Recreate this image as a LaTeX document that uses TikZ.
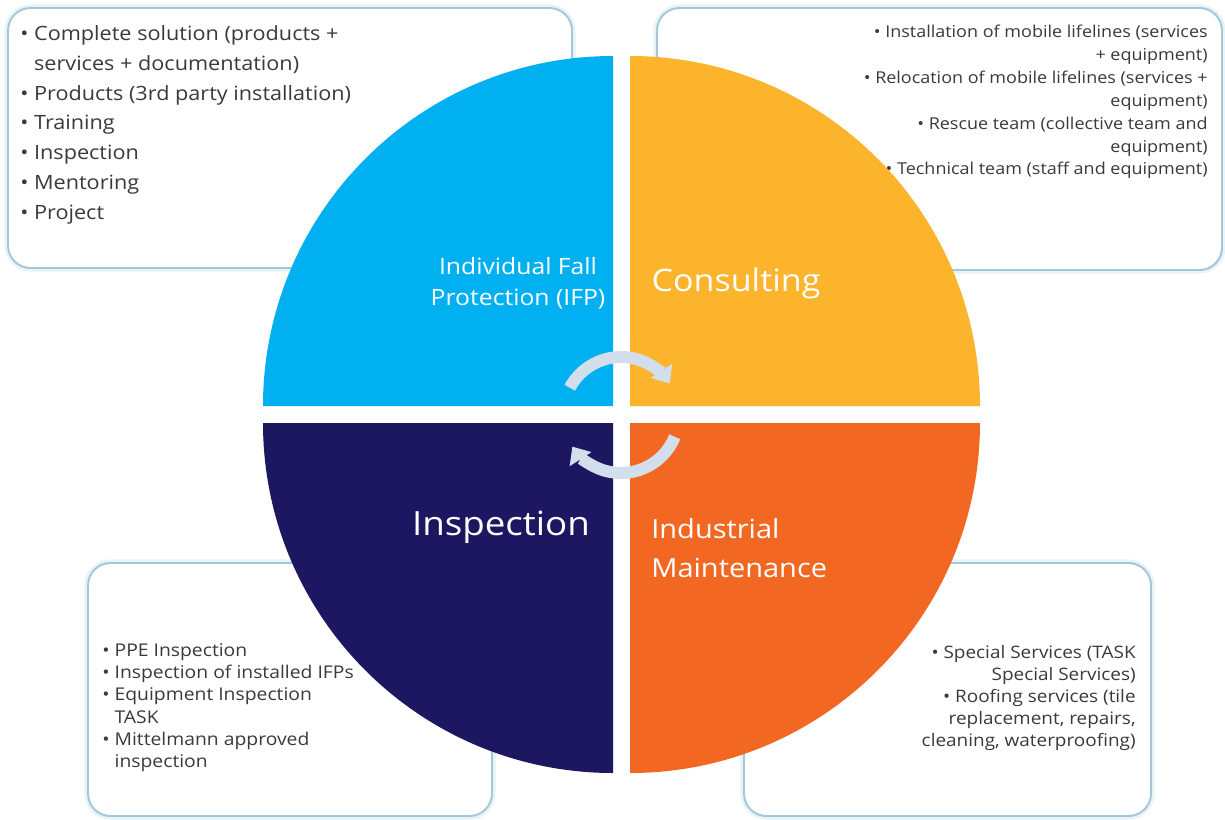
\documentclass[tikz,border=0pt]{standalone}
\usepackage{fontspec}
\setmainfont{Open Sans}[FakeStretch=1.1]
\usetikzlibrary{arrows.meta}

\definecolor{ifpblue}{HTML}{00B0F0}
\definecolor{consyellow}{HTML}{FBB42C}
\definecolor{inspnavy}{HTML}{1D1762}
\definecolor{maintorange}{HTML}{F26722}
\definecolor{boxline}{HTML}{A3C6D8}
\definecolor{boxglow}{HTML}{E8F3F9}
\definecolor{arrowgrey}{HTML}{D2DEEB}
\definecolor{listgrey}{HTML}{3A3A3A}

\newcommand{\bul}{\textbullet\ }
\newcommand{\ind}{\hphantom{\textbullet\ }}

\begin{document}
\begin{tikzpicture}[x=0.02cm,y=-0.02cm,
	infobox/.style={draw=boxline,line width=1.1pt,rounded corners=0.45cm,fill=white},
	glowbox/.style={draw=boxglow,line width=4pt,rounded corners=0.45cm},
	listtext/.style={inner sep=0pt,text=listgrey},
	quadlabel/.style={text=white,inner sep=0pt},
	cyclearrow/.style={draw=arrowgrey,line width=0.24cm,-{Triangle[width=0.5cm,length=0.3cm]}}]
\useasboundingbox (0,0) rectangle (1225,819);
\fill[white] (0,0) rectangle (1225,819);
%boxes
\draw[glowbox] (8,8) rectangle (572,268)
	(657,8) rectangle (1222,270)
	(88,563) rectangle (492,816)
	(744,563) rectangle (1151,816);
\draw[infobox] (8,8) rectangle (572,268);
\draw[infobox] (657,8) rectangle (1222,270);
\draw[infobox] (88,563) rectangle (492,816);
\draw[infobox] (744,563) rectangle (1151,816);
%lists
\path (20,25) node[listtext,anchor=north west,align=left,font=\fontsize{11.2}{17}\selectfont] (ifplist)
	{\bul Complete solution (products +\\\ind services + documentation)\\\bul Products (3rd party installation)\\\bul Training\\\bul Inspection\\\bul Mentoring\\\bul Project};
\path (1208,25) node[listtext,anchor=north east,align=right,font=\fontsize{9.3}{13}\selectfont] (consultlist)
	{\bul Installation of mobile lifelines (services\\+ equipment)\\\bul Relocation of mobile lifelines (services +\\equipment)\\\bul Rescue team (collective team and\\equipment)\\\bul Technical team (staff and equipment)};
\path (102,643) node[listtext,anchor=north west,align=left,font=\fontsize{10}{12.7}\selectfont] (insplist)
	{\bul PPE Inspection\\\bul Inspection of installed IFPs\\\bul Equipment Inspection\\\ind TASK\\\bul Mittelmann approved\\\ind inspection};
\path (1136,645) node[listtext,anchor=north east,align=right,font=\fontsize{9.8}{12.5}\selectfont] (maintlist)
	{\bul Special Services (TASK\\Special Services)\\\bul Roofing services (tile\\replacement, repairs,\\cleaning, waterproofing)};
%quadrants
\fill[ifpblue] (613,406) -- (263,406) arc (180:270:350) -- cycle;
\fill[consyellow] (630,406) -- (630,56) arc (270:360:350) -- cycle;
\fill[inspnavy] (613,423) -- (613,773) arc (90:180:350) -- cycle;
\fill[maintorange] (630,423) -- (980,423) arc (0:90:350) -- cycle;
%cycle arrows
\draw[cyclearrow] (621,415) ++(208:58) arc (208:327:58);
\draw[cyclearrow] (621,415) ++(22:58) arc (22:147:58);
%quadrant labels
\path (518,283) node[quadlabel,align=center,font=\fontsize{12.8}{17.5}\selectfont] (ifp) {Individual Fall\\Protection (IFP)};
\path (736,283) node[quadlabel,font=\fontsize{17.6}{22}\selectfont] (consult) {Consulting};
\path (501,527) node[quadlabel,font=\fontsize{19}{24}\selectfont] (insp) {Inspection};
\path (651,548) node[quadlabel,anchor=west,align=left,font=\fontsize{15}{22}\selectfont] (maint) {Industrial\\Maintenance};
\end{tikzpicture}
\end{document}
